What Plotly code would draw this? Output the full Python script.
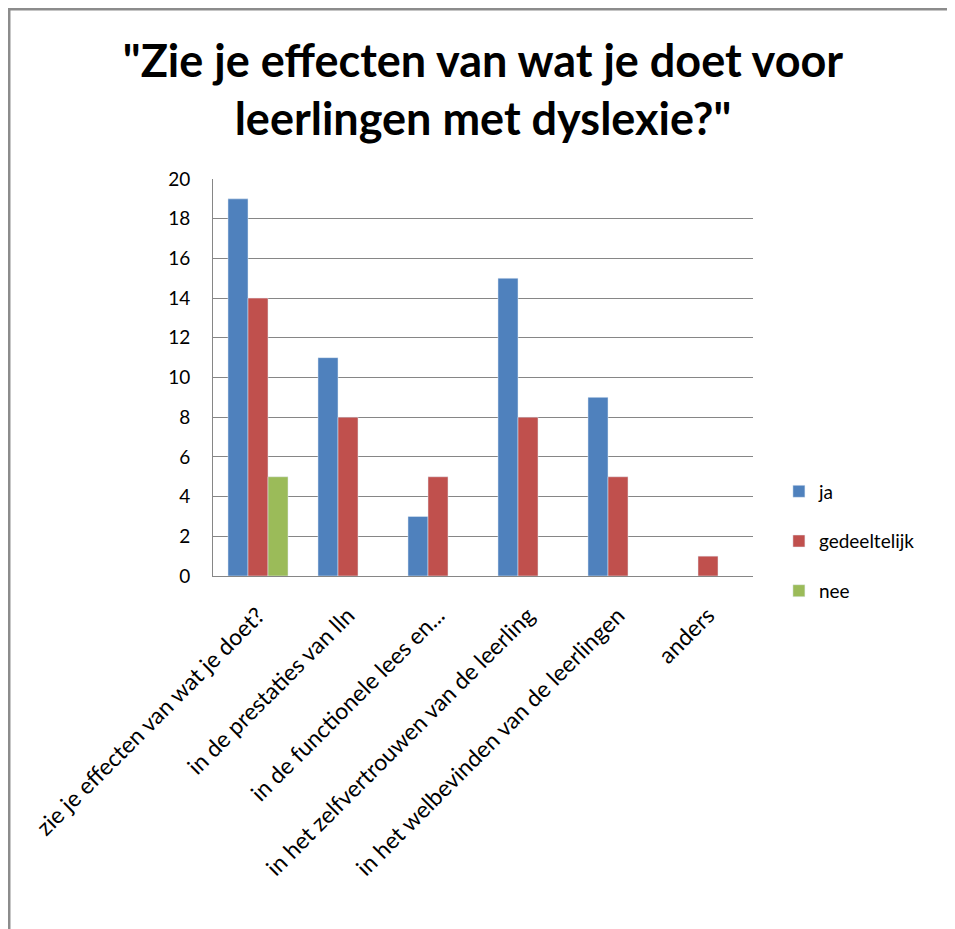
import plotly.graph_objects as go

categories = [
    "zie je effecten van wat je doet?",
    "in de prestaties van lln",
    "in de functionele lees en...",
    "in het zelfvertrouwen van de leerling",
    "in het welbevinden van de leerlingen",
    "anders",
]
ja = [19, 11, 3, 15, 9, None]
gedeeltelijk = [14, 8, 5, 8, 5, 1]
nee = [5, None, None, None, None, None]

font = "Lato, 'Open Sans', sans-serif"
grid = "#868686"

fig = go.Figure()
fig.add_trace(go.Bar(x=categories, y=ja, name="ja", marker_color="#4F81BD", legendgroup="a"))
fig.add_trace(go.Bar(x=categories, y=gedeeltelijk, name="gedeeltelijk", marker_color="#C0504D", legendgroup="b"))
fig.add_trace(go.Bar(x=categories, y=nee, name="nee", marker_color="#9BBB59", legendgroup="c"))

fig.update_layout(
    width=955, height=929,
    margin=dict(l=205, r=210, t=171, b=361),
    paper_bgcolor="white", plot_bgcolor="white",
    font=dict(family=font, color="#000000", size=18),
    barmode="group", bargap=0.333, bargroupgap=0,
    title=dict(
        text="<b>\"Zie je effecten van wat je doet voor<br>leerlingen met dyslexie?\"</b>",
        x=0.5, xref="paper", xanchor="center",
        y=0.926, yref="container", yanchor="top",
        font=dict(size=45, family=font),
    ),
    legend=dict(
        x=1.048, xanchor="left", y=0.087, yanchor="middle",
        font=dict(size=19), traceorder="grouped", tracegroupgap=22,
        itemwidth=30,
    ),
    shapes=[
        dict(type="line", xref="paper", yref="paper", x0=-0.38, x1=1.5, y0=1.428, y1=1.428,
             line=dict(color="#8c8c8c", width=3)),
        dict(type="line", xref="paper", yref="paper", x0=-0.3778, x1=-0.3778, y0=1.428, y1=-1.0,
             line=dict(color="#8c8c8c", width=3)),
    ],
)
fig.update_yaxes(
    range=[0, 20], dtick=2, showgrid=True, gridcolor=grid, gridwidth=1,
    showline=True, linecolor=grid, linewidth=1, ticks="",
    ticklabelstandoff=18, tickfont=dict(size=19), zeroline=False,
)
fig.update_xaxes(
    tickangle=-45, showline=True, linecolor=grid, linewidth=1,
    tickfont=dict(size=23), ticks="", ticklabelstandoff=16,
)

fig.write_html("out.html")
